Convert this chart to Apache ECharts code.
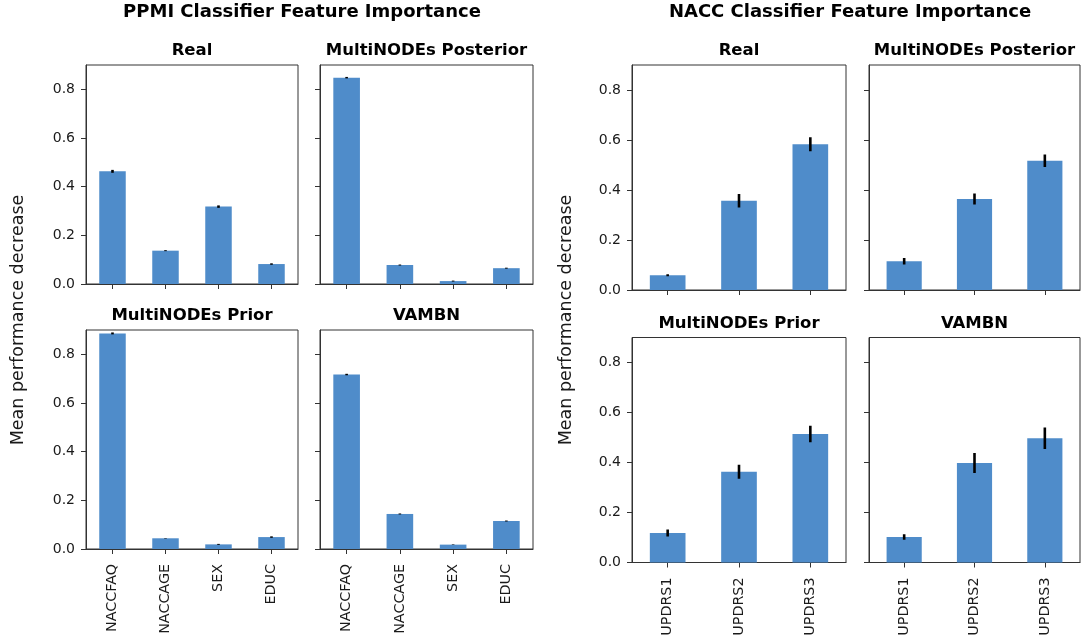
<!DOCTYPE html>
<html>
<head>
<meta charset="utf-8">
<title>Classifier Feature Importance</title>
<script src="https://cdn.jsdelivr.net/npm/echarts@6/dist/echarts.min.js"></script>
<style>
  html, body { margin: 0; padding: 0; background: #fff; }
  #chart { width: 1082px; height: 638px; }
</style>
</head>
<body>
<div id="chart"></div>
<script>
// Feature names for the two studies
const ppmiFeatures = ['NACCFAQ', 'NACCAGE', 'SEX', 'EDUC'];
const naccFeatures = ['UPDRS1', 'UPDRS2', 'UPDRS3'];
const panelNames = ['Real', 'MultiNODEs Posterior', 'MultiNODEs Prior', 'VAMBN'];
const yTicks = [0, 0.2, 0.4, 0.6, 0.8];

// PPMI classifier: mean performance decrease and its spread
const ppmiReal = [0.463, 0.137, 0.318, 0.082];
const ppmiRealErr = [0.006, 0.002, 0.005, 0.003];
const ppmiPosterior = [0.848, 0.078, 0.012, 0.065];
const ppmiPosteriorErr = [0.003, 0.002, 0.002, 0.002];
const ppmiPrior = [0.886, 0.044, 0.019, 0.049];
const ppmiPriorErr = [0.004, 0.001, 0.002, 0.003];
const ppmiVambn = [0.717, 0.144, 0.018, 0.115];
const ppmiVambnErr = [0.003, 0.002, 0.001, 0.002];

// NACC classifier: mean performance decrease and its spread
const naccReal = [0.059, 0.357, 0.583];
const naccRealErr = [0.004, 0.027, 0.028];
const naccPosterior = [0.115, 0.364, 0.517];
const naccPosteriorErr = [0.013, 0.022, 0.025];
const naccPrior = [0.118, 0.363, 0.514];
const naccPriorErr = [0.014, 0.028, 0.033];
const naccVambn = [0.102, 0.398, 0.497];
const naccVambnErr = [0.011, 0.040, 0.043];

const FONT = 'DejaVu Sans';
const BAR_COLOR = '#4f8cca';
const FRAME = '#333333';

// Panel boxes: [left, top, width, height]
const panels = [
  { box: [86, 65, 212, 219],    cats: ppmiFeatures, vals: ppmiReal,      errs: ppmiRealErr,      name: panelNames[0], leftCol: true,  bottomRow: false },
  { box: [320, 65, 213, 219],   cats: ppmiFeatures, vals: ppmiPosterior, errs: ppmiPosteriorErr, name: panelNames[1], leftCol: false, bottomRow: false },
  { box: [86, 330, 212, 219],   cats: ppmiFeatures, vals: ppmiPrior,     errs: ppmiPriorErr,     name: panelNames[2], leftCol: true,  bottomRow: true },
  { box: [320, 330, 213, 219],  cats: ppmiFeatures, vals: ppmiVambn,     errs: ppmiVambnErr,     name: panelNames[3], leftCol: false, bottomRow: true },
  { box: [632, 65, 214, 225],   cats: naccFeatures, vals: naccReal,      errs: naccRealErr,      name: panelNames[0], leftCol: true,  bottomRow: false },
  { box: [869, 65, 211, 225],   cats: naccFeatures, vals: naccPosterior, errs: naccPosteriorErr, name: panelNames[1], leftCol: false, bottomRow: false },
  { box: [632, 337.5, 214, 225], cats: naccFeatures, vals: naccPrior,    errs: naccPriorErr,     name: panelNames[2], leftCol: true,  bottomRow: true },
  { box: [869, 337.5, 211, 225], cats: naccFeatures, vals: naccVambn,    errs: naccVambnErr,     name: panelNames[3], leftCol: false, bottomRow: true }
];

const grid = [], xAxis = [], yAxis = [], series = [], graphic = [];

function errorBarItem(params, api) {
  const x = api.value(0);
  const lo = api.coord([x, api.value(1)]);
  const hi = api.coord([x, api.value(2)]);
  return {
    type: 'line',
    shape: { x1: lo[0], y1: lo[1], x2: hi[0], y2: hi[1] },
    style: { stroke: '#000', lineWidth: 2.6, lineCap: 'butt' }
  };
}

panels.forEach((p, i) => {
  const [l, t, w, h] = p.box;
  grid.push({ left: l, top: t, width: w, height: h, show: true, borderColor: FRAME, borderWidth: 1,
    backgroundColor: 'transparent', containLabel: false, outerBoundsMode: 'none' });
  xAxis.push({
    type: 'category', gridIndex: i, data: p.cats,
    axisLine: { show: true, lineStyle: { color: FRAME, width: 1 } },
    axisTick: { show: true, alignWithLabel: true, length: 5, lineStyle: { color: FRAME } },
    axisLabel: { show: p.bottomRow, rotate: 90, margin: 15, fontFamily: FONT, fontSize: 14.3, color: '#1a1a1a', interval: 0 },
    splitLine: { show: false }
  });
  yAxis.push({
    type: 'value', gridIndex: i, min: 0, max: 0.9,
    axisLine: { show: true, lineStyle: { color: FRAME, width: 1 } },
    axisTick: { show: true, length: 5, customValues: yTicks, lineStyle: { color: FRAME } },
    axisLabel: { show: p.leftCol, margin: 11, customValues: yTicks, fontFamily: FONT, fontSize: 14, color: '#1a1a1a',
      formatter: v => v.toFixed(1) },
    splitLine: { show: false }
  });
  series.push({
    type: 'bar', xAxisIndex: i, yAxisIndex: i, data: p.vals, barWidth: '50%',
    itemStyle: { color: BAR_COLOR }, silent: true, animation: false
  });
  series.push({
    type: 'custom', xAxisIndex: i, yAxisIndex: i, renderItem: errorBarItem,
    encode: { x: 0, y: [1, 2] }, silent: true, animation: false, z: 5,
    data: p.vals.map((v, k) => [k, v - p.errs[k], v + p.errs[k]])
  });
  // Panel title above each box
  graphic.push({
    type: 'text', x: l + w / 2, y: t - 14,
    style: { text: p.name, font: 'bold 16.5px "' + FONT + '"', fill: '#000', align: 'center', verticalAlign: 'middle' }
  });
});

// Figure headings and shared y-axis labels
graphic.push({ type: 'text', x: 302, y: 12.5,
  style: { text: 'PPMI Classifier Feature Importance', font: 'bold 18px "' + FONT + '"', fill: '#000', align: 'center', verticalAlign: 'middle' } });
graphic.push({ type: 'text', x: 850, y: 12.5,
  style: { text: 'NACC Classifier Feature Importance', font: 'bold 18px "' + FONT + '"', fill: '#000', align: 'center', verticalAlign: 'middle' } });
graphic.push({ type: 'text', x: 18.5, y: 320, rotation: Math.PI / 2,
  style: { text: 'Mean performance decrease', font: '17.5px "' + FONT + '"', fill: '#1a1a1a', align: 'center', verticalAlign: 'middle' } });
graphic.push({ type: 'text', x: 566.5, y: 320, rotation: Math.PI / 2,
  style: { text: 'Mean performance decrease', font: '17.5px "' + FONT + '"', fill: '#1a1a1a', align: 'center', verticalAlign: 'middle' } });

const chart = echarts.init(document.getElementById('chart'), null, { renderer: 'canvas' });
chart.setOption({
  backgroundColor: '#ffffff',
  animation: false,
  grid, xAxis, yAxis, series, graphic
});
</script>
</body>
</html>
